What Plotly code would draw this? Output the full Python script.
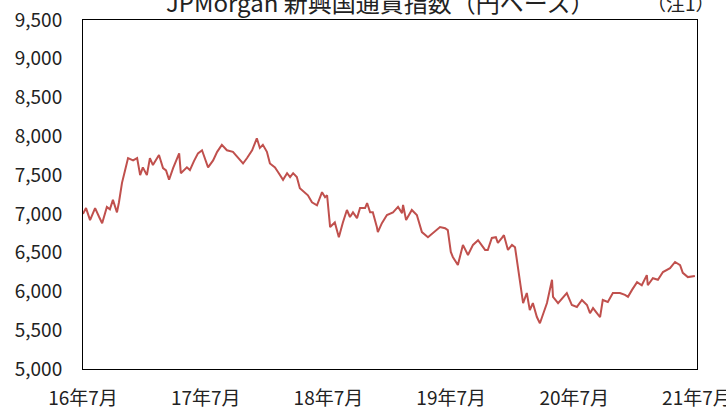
import plotly.graph_objects as go

dates = [
    "2016-07-01", "2016-07-10", "2016-07-22", "2016-08-06", "2016-08-18", "2016-08-27",
    "2016-09-10", "2016-09-19", "2016-09-28", "2016-10-10", "2016-10-16", "2016-10-25",
    "2016-11-03", "2016-11-12", "2016-11-27", "2016-12-09", "2016-12-18", "2016-12-26",
    "2017-01-07", "2017-01-16", "2017-01-25", "2017-02-12", "2017-02-24", "2017-03-05",
    "2017-03-14", "2017-03-26", "2017-04-13", "2017-04-18", "2017-05-06", "2017-05-15",
    "2017-05-27", "2017-06-08", "2017-06-20", "2017-06-29", "2017-07-08", "2017-07-23",
    "2017-08-04", "2017-08-18", "2017-09-02", "2017-09-20", "2017-10-05", "2017-10-20",
    "2017-11-01", "2017-11-16", "2017-11-30", "2017-12-09", "2017-12-18", "2017-12-30",
    "2018-01-08", "2018-01-23", "2018-02-01", "2018-02-16", "2018-02-28", "2018-03-09",
    "2018-03-18", "2018-03-29", "2018-04-07", "2018-04-22", "2018-05-01", "2018-05-13",
    "2018-05-28", "2018-06-12", "2018-06-21", "2018-06-27", "2018-07-06", "2018-07-20",
    "2018-08-01", "2018-08-13", "2018-08-25", "2018-09-03", "2018-09-12", "2018-09-24",
    "2018-10-03", "2018-10-18", "2018-10-24", "2018-11-02", "2018-11-10", "2018-11-22",
    "2018-11-25", "2018-12-07", "2018-12-22", "2019-01-09", "2019-01-24", "2019-02-05",
    "2019-02-08", "2019-02-17", "2019-03-06", "2019-03-21", "2019-04-05", "2019-04-23",
    "2019-05-08", "2019-05-29", "2019-06-13", "2019-06-21", "2019-06-30", "2019-07-06",
    "2019-07-21", "2019-08-05", "2019-08-20", "2019-09-04", "2019-09-19", "2019-09-25",
    "2019-10-10", "2019-10-18", "2019-10-30", "2019-11-11", "2019-11-17", "2019-11-29",
    "2019-12-05", "2019-12-17", "2019-12-29", "2020-01-07", "2020-01-16", "2020-01-28",
    "2020-01-31", "2020-02-11", "2020-02-20", "2020-02-29", "2020-03-12", "2020-03-21",
    "2020-03-30", "2020-04-11", "2020-04-26", "2020-04-29", "2020-05-14", "2020-05-26",
    "2020-06-09", "2020-06-24", "2020-07-09", "2020-07-24", "2020-08-08", "2020-08-17",
    "2020-08-26", "2020-09-10", "2020-09-16", "2020-09-24", "2020-10-09", "2020-10-24",
    "2020-11-14", "2020-11-29", "2020-12-08", "2020-12-20", "2021-01-04", "2021-01-18",
    "2021-02-02", "2021-02-05", "2021-02-20", "2021-03-07", "2021-03-22", "2021-04-12",
    "2021-04-27", "2021-05-12", "2021-05-20", "2021-06-04", "2021-06-25",
]

index_values = [
    7000, 7075, 6920, 7075, 6960, 6880,
    7090, 7060, 7180, 7020, 7150, 7400,
    7560, 7720, 7690, 7720, 7500, 7600,
    7500, 7720, 7630, 7760, 7590, 7560,
    7440, 7590, 7780, 7525, 7600, 7565,
    7680, 7780, 7820, 7700, 7600, 7690,
    7800, 7890, 7820, 7800, 7720, 7650,
    7720, 7820, 7975, 7850, 7890, 7800,
    7650, 7600, 7540, 7440, 7525, 7475,
    7525, 7475, 7330, 7270, 7240, 7150,
    7110, 7280, 7215, 7240, 6830, 6890,
    6700, 6890, 7050, 6960, 7020, 6945,
    7075, 7075, 7140, 7020, 7020, 6830,
    6765, 6880, 6985, 7020, 7090, 7010,
    7115, 6920, 7050, 6985, 6765, 6700,
    6750, 6830, 6815, 6790, 6510, 6445,
    6340, 6600, 6470, 6600, 6660, 6625,
    6535, 6535, 6690, 6700, 6625, 6690,
    6725, 6535, 6600, 6570, 6300, 5980,
    5850, 5980, 5760, 5850, 5670, 5590,
    5700, 5850, 6150, 5930, 5850, 5915,
    5980, 5825, 5800, 5890, 5825, 5720,
    5785, 5700, 5670, 5890, 5865, 5980,
    5980, 5955, 5930, 6020, 6120, 6080,
    6210, 6080, 6170, 6150, 6250, 6300,
    6380, 6340, 6240, 6185, 6200,
]

x_tick_dates = ["2016-07-01", "2017-07-01", "2018-07-01", "2019-07-01", "2020-07-01", "2021-07-01"]
x_tick_labels = ["16年7月", "17年7月", "18年7月", "19年7月", "20年7月", "21年7月"]

title_text = "JPMorgan 新興国通貨指数（円ベース）"
note_text = "（注1）"

FONT = "Noto Sans CJK JP"

fig = go.Figure()
fig.add_trace(go.Scatter(
    x=dates, y=index_values, mode="lines",
    line=dict(color="#C0504D", width=2),
    showlegend=False, hoverinfo="skip",
))

fig.update_layout(
    template="none",
    width=726, height=408,
    margin=dict(l=83, r=29, t=20, b=39, autoexpand=False),
    paper_bgcolor="white", plot_bgcolor="white",
    font=dict(family=FONT, size=16, color="#222222"),
    xaxis=dict(
        type="date",
        range=["2016-07-01", "2021-07-01 06:00"],
        tickvals=x_tick_dates, ticktext=x_tick_labels,
        ticklabeloverflow="allow",
        showgrid=False, zeroline=False, automargin=False,
        showline=True, mirror=True, linecolor="black", linewidth=1,
        ticks="outside", ticklen=12, tickcolor="rgba(0,0,0,0)",
        tickfont=dict(family=FONT, size=19, color="#222222"),
    ),
    yaxis=dict(
        range=[5000, 9500], dtick=500, tick0=5000,
        tickformat=",d",
        ticklabeloverflow="allow",
        showgrid=False, zeroline=False, automargin=False,
        showline=True, mirror=True, linecolor="black", linewidth=1,
        ticks="outside", ticklen=16, tickcolor="rgba(0,0,0,0)",
        tickfont=dict(family=FONT, size=19, color="#222222"),
    ),
    annotations=[
        dict(text=title_text, xref="paper", yref="paper", x=(380 - 83) / 614, y=(369 - 1) / 349,
             xanchor="center", yanchor="middle", showarrow=False,
             font=dict(family=FONT, size=24, color="#222222")),
        dict(text=note_text, xref="paper", yref="paper", x=(681 - 83) / 614, y=(369 - 2) / 349,
             xanchor="center", yanchor="middle", showarrow=False,
             font=dict(family=FONT, size=19, color="#222222")),
    ],
)

fig.write_html(
    "out.html",
    config={"displayModeBar": False, "staticPlot": True},
    post_script="document.body.style.margin='0';document.body.style.overflow='hidden';",
)
